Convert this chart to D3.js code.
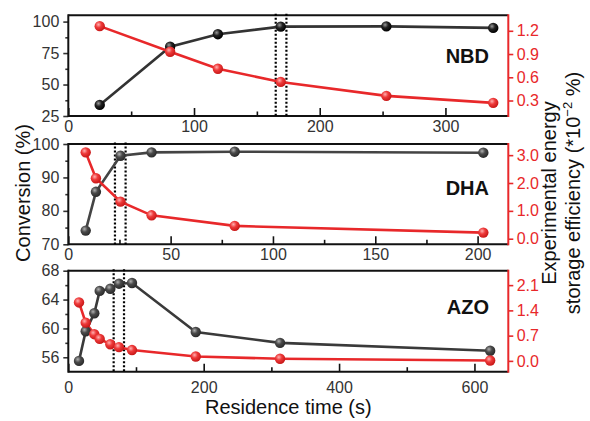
<!DOCTYPE html>
<html>
<head>
<meta charset="utf-8">
<script src="https://cdn.jsdelivr.net/npm/d3@7"></script>
<style>
  body { margin: 0; background: #fff; }
  text { font-family: "Liberation Sans", Arial, sans-serif; }
</style>
</head>
<body>
<svg id="chart" width="590" height="421"></svg>
<script>
// NBD
const nbdTime = [25, 81, 119, 169, 253, 338];
const nbdConversion = [33.8, 80.1, 90, 96, 96.2, 95];
const nbdEfficiency = [1.26, 0.93, 0.71, 0.54, 0.36, 0.27];
const nbdWindow = [165, 173.5];

// DHA
const dhaTime = [8.5, 13.5, 25.5, 40.7, 81.3, 202.8];
const dhaConversion = [74.1, 85.7, 96.5, 97.5, 97.7, 97.4];
const dhaEfficiency = [3.1, 2.17, 1.33, 0.84, 0.46, 0.22];
const dhaWindow = [22.8, 28];

// AZO
const azoTime = [15.8, 25.7, 38.4, 46.4, 62.1, 74.9, 94.1, 188.3, 312.8, 623.2];
const azoConversion = [55.5, 59.6, 62.1, 65.2, 65.5, 66.2, 66.3, 59.5, 58.0, 56.9];
const azoEfficiency = [1.62, 1.06, 0.74, 0.61, 0.46, 0.38, 0.30, 0.12, 0.06, 0.01];
const azoWindow = [67, 82.3];

// tick labels
const nbdXTicks = [0, 100, 200, 300], nbdXMinor = [50, 150, 250];
const nbdYTicks = [25, 50, 75, 100], nbdYMinor = [37.5, 62.5, 87.5];
const nbdRTicks = [0.3, 0.6, 0.9, 1.2];
const dhaXTicks = [0, 50, 100, 150, 200], dhaXMinor = [25, 75, 125, 175];
const dhaYTicks = [70, 80, 90, 100], dhaYMinor = [75, 85, 95];
const dhaRTicks = [0, 1, 2, 3];
const azoXTicks = [0, 200, 400, 600], azoXMinor = [100, 300, 500];
const azoYTicks = [56, 60, 64, 68], azoYMinor = [58, 62, 66];
const azoRTicks = [0, 0.7, 1.4, 2.1];

const red = "#e8282a";
const left = 68.3, right = 508.3;

const panels = [
  { name: "NBD", time: nbdTime, conv: nbdConversion, eff: nbdEfficiency, win: nbdWindow,
    xDom: [0, 350], yDom: [25, 105], rDom: [0.1, 1.4],
    xTicks: nbdXTicks, xMinor: nbdXMinor, yTicks: nbdYTicks, yMinor: nbdYMinor, rTicks: nbdRTicks,
    top: 15.3, bottom: 116, xPad: 4.3, ball: "ballBlack", lineColor: "#333", labelY: 63 },
  { name: "DHA", time: dhaTime, conv: dhaConversion, eff: dhaEfficiency, win: dhaWindow,
    xDom: [0, 215], yDom: [70, 100], rDom: [-0.2, 3.4],
    xTicks: dhaXTicks, xMinor: dhaXMinor, yTicks: dhaYTicks, yMinor: dhaYMinor, rTicks: dhaRTicks,
    top: 144, bottom: 244.3, xPad: 4.3, ball: "ballGray", lineColor: "#444", labelY: 195 },
  { name: "AZO", time: azoTime, conv: azoConversion, eff: azoEfficiency, win: azoWindow,
    xDom: [0, 650], yDom: [54, 68], rDom: [-0.3, 2.5],
    xTicks: azoXTicks, xMinor: azoXMinor, yTicks: azoYTicks, yMinor: azoYMinor, rTicks: azoRTicks,
    top: 270.7, bottom: 371.7, xPad: 10.2, ball: "ballGray", lineColor: "#3a3a3a", labelY: 314 }
];

const svg = d3.select("#chart");

// sphere-like markers
const defs = svg.append("defs");
function ball(id, light, mid, dark) {
  const g = defs.append("radialGradient").attr("id", id)
    .attr("cx", "38%").attr("cy", "35%").attr("r", "65%");
  g.append("stop").attr("offset", "0%").attr("stop-color", light);
  g.append("stop").attr("offset", "45%").attr("stop-color", mid);
  g.append("stop").attr("offset", "100%").attr("stop-color", dark);
}
ball("ballBlack", "#9a9a9a", "#222", "#000");
ball("ballGray", "#b0b0b0", "#4a4a4a", "#2a2a2a");
ball("ballRed", "#ffb0b0", "#ee3a3a", "#c81818");

function styleAxis(g, color) {
  g.select(".domain").remove();
  g.selectAll("line").attr("stroke", color).attr("stroke-width", 1.6);
  g.selectAll("text").attr("fill", color).attr("font-size", 16)
    .attr("font-family", "'Liberation Sans', Arial, sans-serif");
}

panels.forEach(p => {
  const x = d3.scaleLinear().domain(p.xDom).range([left, right]);
  const y = d3.scaleLinear().domain(p.yDom).range([p.bottom, p.top]);
  const r = d3.scaleLinear().domain(p.rDom).range([p.bottom, p.top]);
  const g = svg.append("g");

  // bottom axis (ticks inward)
  styleAxis(g.append("g").attr("transform", `translate(0,${p.bottom})`)
    .call(d3.axisBottom(x).tickValues(p.xTicks).tickFormat(d3.format("d"))
      .tickSizeInner(-8).tickSizeOuter(0).tickPadding(p.xPad)), "#333");
  styleAxis(g.append("g").attr("transform", `translate(0,${p.bottom})`)
    .call(d3.axisBottom(x).tickValues(p.xMinor).tickFormat("")
      .tickSizeInner(-4.5).tickSizeOuter(0)), "#333");
  g.selectAll("line").attr("stroke", "#111");

  // left axis (ticks outward)
  styleAxis(g.append("g").attr("transform", `translate(${left},0)`)
    .call(d3.axisLeft(y).tickValues(p.yTicks).tickFormat(d3.format("d"))
      .tickSize(5).tickPadding(4)), "#333");
  styleAxis(g.append("g").attr("transform", `translate(${left},0)`)
    .call(d3.axisLeft(y).tickValues(p.yMinor).tickFormat("").tickSize(3)), "#333");

  // right axis (red)
  styleAxis(g.append("g").attr("transform", `translate(${right},0)`)
    .call(d3.axisRight(r).tickValues(p.rTicks).tickFormat(d3.format(".1f"))
      .tickSize(5).tickPadding(3.4)), red);

  // frame
  const frame = g.append("g").attr("stroke-width", 2).attr("fill", "none");
  frame.append("line").attr("x1", left).attr("x2", right).attr("y1", p.top).attr("y2", p.top).attr("stroke", "#111");
  frame.append("line").attr("x1", left).attr("x2", right).attr("y1", p.bottom).attr("y2", p.bottom).attr("stroke", "#111");
  frame.append("line").attr("x1", left).attr("x2", left).attr("y1", p.top - 1).attr("y2", p.bottom + 1).attr("stroke", "#111");
  frame.append("line").attr("x1", right).attr("x2", right).attr("y1", p.top - 1).attr("y2", p.bottom + 1).attr("stroke", red);

  // dotted window
  p.win.forEach(v => {
    g.append("line").attr("x1", x(v)).attr("x2", x(v))
      .attr("y1", p.top - 1.5).attr("y2", p.bottom)
      .attr("stroke", "#000").attr("stroke-width", 2.2).attr("stroke-dasharray", "2,2");
  });

  const convPts = p.time.map((t, i) => [t, p.conv[i]]);
  const effPts = p.time.map((t, i) => [t, p.eff[i]]);

  // conversion series
  g.append("path").datum(convPts)
    .attr("fill", "none").attr("stroke", p.lineColor).attr("stroke-width", 2.6)
    .attr("d", d3.line().x(d => x(d[0])).y(d => y(d[1])));
  // efficiency series
  g.append("path").datum(effPts)
    .attr("fill", "none").attr("stroke", red).attr("stroke-width", 2.6)
    .attr("d", d3.line().x(d => x(d[0])).y(d => r(d[1])));

  g.selectAll(".cb").data(convPts).join("circle")
    .attr("cx", d => x(d[0])).attr("cy", d => y(d[1])).attr("r", 5.2)
    .attr("fill", `url(#${p.ball})`);
  g.selectAll(".cr").data(effPts).join("circle")
    .attr("cx", d => x(d[0])).attr("cy", d => r(d[1])).attr("r", 5.2)
    .attr("fill", "url(#ballRed)");

  // compound name
  g.append("text").attr("x", 489).attr("y", p.labelY)
    .attr("text-anchor", "end").attr("font-size", 20).attr("font-weight", "bold")
    .attr("fill", "#111").text(p.name);
});

// axis titles
svg.append("text")
  .attr("transform", "translate(30,193) rotate(-90)")
  .attr("text-anchor", "middle").attr("font-size", 20).attr("fill", "#111")
  .text("Conversion (%)");

svg.append("text")
  .attr("transform", "translate(556,193) rotate(-90)")
  .attr("text-anchor", "middle").attr("font-size", 20).attr("fill", "#111")
  .text("Experimental energy");

const t2 = svg.append("text")
  .attr("transform", "translate(580,193) rotate(-90)")
  .attr("text-anchor", "middle").attr("font-size", 20).attr("fill", "#111");
t2.append("tspan").text("storage efficiency (*10");
t2.append("tspan").attr("font-size", 13).attr("dy", -8).text("\u22122");
t2.append("tspan").attr("dy", 8).text(" %)");

svg.append("text")
  .attr("x", (left + right) / 2).attr("y", 414)
  .attr("text-anchor", "middle").attr("font-size", 20).attr("fill", "#111")
  .text("Residence time (s)");
</script>
</body>
</html>
